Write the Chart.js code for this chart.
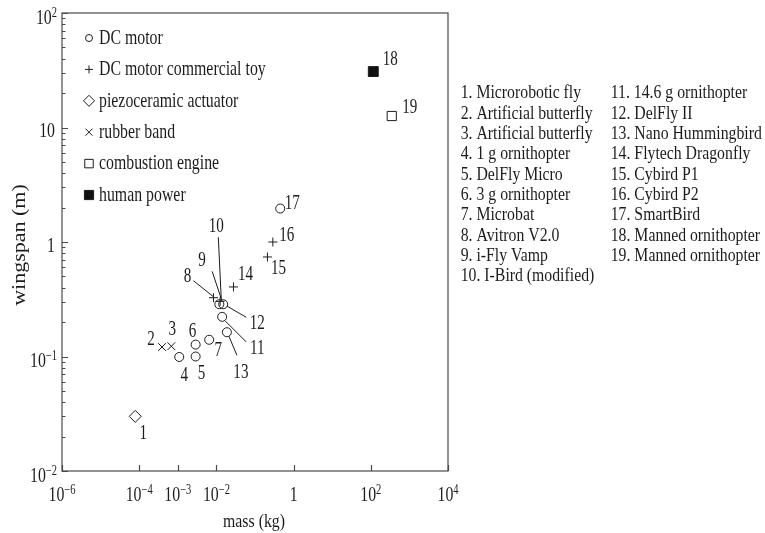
<!DOCTYPE html>
<html>
<head>
<meta charset="utf-8">
<script src="https://cdn.jsdelivr.net/npm/chart.js@4.4.1/dist/chart.umd.min.js"></script>
<style>
    html, body { margin: 0; padding: 0; background: #fff; }
</style>
</head>
<body>
<canvas id="chart" width="765" height="533"></canvas>
<script>
// Flapping-wing vehicles: mass vs wingspan (log-log)

const vehicleIds = [1, 2, 3, 4, 5, 6, 7, 8, 9, 10, 11, 12, 13, 14, 15, 16, 17, 18, 19];
const massKg = [7.9e-5, 3.9e-4, 6.8e-4, 1.09e-3, 2.9e-3, 2.9e-3, 6.5e-3, 8.4e-3, 0.0125, 0.0119,
                0.0141, 0.0150, 0.0187, 0.0277, 0.21, 0.29, 0.45, 116, 349];
const wingspanM = [0.030, 0.121, 0.123, 0.099, 0.100, 0.127, 0.140, 0.326, 0.303, 0.286,
                   0.222, 0.286, 0.163, 0.405, 0.74, 1.0, 1.96, 30.8, 12.6];
const powerSource = ['piezo', 'rubber', 'rubber', 'dc', 'dc', 'dc', 'dc', 'toy', 'toy', 'dc',
                     'dc', 'dc', 'dc', 'toy', 'toy', 'toy', 'dc', 'human', 'combustion'];

const legendKinds = ['dc', 'toy', 'piezo', 'rubber', 'combustion', 'human'];
const legendNames = ['DC motor', 'DC motor commercial toy', 'piezoceramic actuator',
                     'rubber band', 'combustion engine', 'human power'];

const vehicleNames = ['Microrobotic fly', 'Artificial butterfly', 'Artificial butterfly',
    '1 g ornithopter', 'DelFly Micro', '3 g ornithopter', 'Microbat', 'Avitron V2.0',
    'i-Fly Vamp', 'I-Bird (modified)', '14.6 g ornithopter', 'DelFly II', 'Nano Hummingbird',
    'Flytech Dragonfly', 'Cybird P1', 'Cybird P2', 'SmartBird', 'Manned ornithopter',
    'Manned ornithopter'];

const xTickValues = [1e-6, 1e-4, 1e-3, 1e-2, 1, 1e2, 1e4];
const xTickExps = [-6, -4, -3, -2, 0, 2, 4];
const yTickValues = [1e-2, 1e-1, 1, 10, 100];
const yTickExps = [-2, -1, 0, 1, 2];

const INK = '#1c1c1c';
const FRAME = '#4a4a4a';
const SERIF = '"Liberation Serif", "Times New Roman", serif';

// marker look per power source
const kindStyle = {
    dc:         { pointStyle: 'circle',  radius: 4.5, fill: 'rgba(0,0,0,0)' },
    toy:        { pointStyle: 'cross',   radius: 4.5, fill: 'rgba(0,0,0,0)' },
    piezo:      { pointStyle: 'rectRot', radius: 6,   fill: 'rgba(0,0,0,0)' },
    rubber:     { pointStyle: 'crossRot', radius: 5.5, fill: 'rgba(0,0,0,0)' },
    combustion: { pointStyle: 'rect',    radius: 6.5, fill: '#fff' },
    human:      { pointStyle: 'rect',    radius: 7,   fill: '#111' },
};

// label placement relative to each marker (pixels): [dx, dy] of label centre
const labelOffset = {
    1: [8, 17], 2: [-11, -8], 3: [1, -17], 4: [5, 18], 5: [6, 17], 6: [-3, -13],
    7: [9, 11], 8: [-26, -21], 9: [-18, -41], 10: [-3, -78], 11: [35, 32], 12: [34, 19],
    13: [14, 40], 14: [12, -12], 15: [11, 12], 16: [14, -7], 17: [12, -5], 18: [17, -12],
    19: [18, -9],
};
// leader lines: [x0, y0, x1, y1] relative to the marker
const leaderOffset = {
    8: [-20, -17, 0, -1],
    9: [-8, -30, 1, -3],
    10: [-1, -67, 2, -4],
    11: [3, 4, 24, 25],
    12: [4, 2, 23, 13],
    13: [2, 4, 10, 23],
};

function drawText(ctx, str, x, y, size, sx, align) {
    ctx.save();
    ctx.font = size + 'px ' + SERIF;
    ctx.textBaseline = 'middle';
    ctx.textAlign = 'left';
    const w = ctx.measureText(str).width * sx;
    let x0 = x;
    if (align === 'center') x0 = x - w / 2;
    else if (align === 'right') x0 = x - w;
    ctx.translate(x0, y);
    ctx.scale(sx, 1);
    ctx.fillStyle = INK;
    ctx.fillText(str, 0, 0);
    ctx.restore();
    return w;
}

function textWidth(ctx, str, size, sx) {
    ctx.save();
    ctx.font = size + 'px ' + SERIF;
    const w = ctx.measureText(str).width * sx;
    ctx.restore();
    return w;
}

// "10^e" with a raised exponent (plain "1" and "10" for e = 0, 1)
function drawPower(ctx, exp, x, y, align, supLift) {
    if (exp === 0 || exp === 1) {
        drawText(ctx, exp === 0 ? '1' : '10', x, y, 22, 0.72, align);
        return;
    }
    const sup = (exp < 0 ? '\u2212' : '') + Math.abs(exp);
    const wb = textWidth(ctx, '10', 22, 0.72);
    const ws = textWidth(ctx, sup, 14, 0.75);
    const total = wb + ws;
    let x0 = x;
    if (align === 'center') x0 = x - total / 2;
    else if (align === 'right') x0 = x - total;
    drawText(ctx, '10', x0, y, 22, 0.72, 'left');
    drawText(ctx, sup, x0 + wb, y - supLift, 14, 0.75, 'left');
}

const axesPlugin = {
    id: 'axesFrame',
    afterDraw(chart) {
        const { ctx, chartArea: a, scales } = chart;
        const xs = scales.x, ys = scales.y;
        ctx.save();
        ctx.strokeStyle = FRAME;
        ctx.lineWidth = 1.2;
        ctx.strokeRect(a.left, a.top, a.right - a.left, a.bottom - a.top);

        // x ticks (inside, pointing up)
        ctx.beginPath();
        xTickValues.forEach(v => {
            const px = Math.round(xs.getPixelForValue(v)) + 0.5;
            ctx.moveTo(px, a.bottom);
            ctx.lineTo(px, a.bottom - 6);
        });
        // y ticks (inside, pointing right), with minor ticks
        for (let e = -2; e <= 2; e++) {
            for (let k = 1; k <= 9; k++) {
                const v = k * Math.pow(10, e);
                if (v > 100.0001) break;
                const py = Math.round(ys.getPixelForValue(v)) + 0.5;
                ctx.moveTo(a.left, py);
                ctx.lineTo(a.left + (k === 1 ? 6 : 3.5), py);
            }
        }
        ctx.stroke();
        ctx.restore();

        // tick labels
        xTickValues.forEach((v, i) => {
            drawPower(ctx, xTickExps[i], xs.getPixelForValue(v), a.bottom + 24, 'center', 5);
        });
        yTickValues.forEach((v, i) => {
            const py = ys.getPixelForValue(v);
            const e = yTickExps[i];
            if (e === 0 || e === 1) drawPower(ctx, e, a.left - 7, py + 4, 'right', 0);
            else drawPower(ctx, e, a.left - 5, py + 5, 'right', 5);
        });

        // axis titles
        drawText(ctx, 'mass (kg)', (a.left + a.right) / 2 - 1, a.bottom + 51, 18, 0.88, 'center');
        ctx.save();
        ctx.translate(20, 245);
        ctx.rotate(-Math.PI / 2);
        ctx.scale(1, 0.82);
        drawText(ctx, 'wingspan (m)', 0, 0, 22, 1, 'center');
        ctx.restore();

        // in-plot legend
        legendKinds.forEach((kind, i) => {
            const y = 38 + i * 31.4;
            const st = kindStyle[kind];
            ctx.save();
            ctx.strokeStyle = INK;
            ctx.fillStyle = st.fill;
            ctx.lineWidth = 1;
            Chart.helpers.drawPoint(ctx, {
                pointStyle: st.pointStyle,
                radius: kind === 'dc' ? 3.5 : st.radius - 0.5,
                rotation: 0,
                borderWidth: 1,
            }, 89, y);
            ctx.restore();
            drawText(ctx, legendNames[i], 99, y, 22, 0.72, 'left');
        });

        // vehicle list at the right
        vehicleNames.forEach((name, i) => {
            const col = i < 10 ? 0 : 1;
            const row = i < 10 ? i : i - 10;
            drawText(ctx, vehicleIds[i] + '. ' + name, col ? 610.7 : 460.7,
                     93.3 + row * 20.35, 19, 0.83, 'left');
        });
    }
};

const pointLabelPlugin = {
    id: 'pointLabels',
    afterDatasetsDraw(chart) {
        const { ctx } = chart;
        chart.data.datasets.forEach((ds, di) => {
            const meta = chart.getDatasetMeta(di);
            meta.data.forEach((el, j) => {
                const id = ds.data[j].id;
                const lead = leaderOffset[id];
                if (lead) {
                    ctx.save();
                    ctx.strokeStyle = INK;
                    ctx.lineWidth = 1;
                    ctx.beginPath();
                    ctx.moveTo(el.x + lead[0], el.y + lead[1]);
                    ctx.lineTo(el.x + lead[2], el.y + lead[3]);
                    ctx.stroke();
                    ctx.restore();
                }
                const off = labelOffset[id];
                drawText(ctx, String(id), el.x + off[0], el.y + off[1], 21, 0.72, 'center');
            });
        });
    }
};

const datasets = legendKinds.map((kind, k) => {
    const st = kindStyle[kind];
    const pts = [];
    vehicleIds.forEach((id, i) => {
        if (powerSource[i] === kind) pts.push({ x: massKg[i], y: wingspanM[i], id });
    });
    return {
        label: legendNames[k],
        data: pts,
        pointStyle: st.pointStyle,
        pointRadius: st.radius,
        pointBackgroundColor: st.fill,
        pointBorderColor: INK,
        pointBorderWidth: 1,
        showLine: false,
    };
});

new Chart(document.getElementById('chart'), {
    type: 'scatter',
    data: { datasets },
    options: {
        responsive: false,
        animation: false,
        devicePixelRatio: 1,
        layout: { padding: { left: 62, top: 13, right: 317, bottom: 62 } },
        plugins: {
            legend: { display: false },
            tooltip: { enabled: false },
        },
        scales: {
            x: { type: 'logarithmic', min: 1e-6, max: 1e4, display: false },
            y: { type: 'logarithmic', min: 1e-2, max: 1e2, display: false },
        }
    },
    plugins: [axesPlugin, pointLabelPlugin]
});
</script>
</body>
</html>
